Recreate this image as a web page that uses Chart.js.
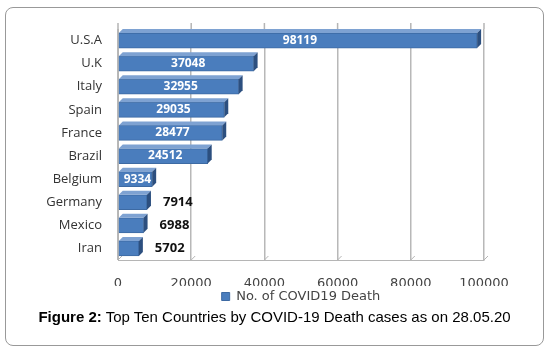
<!DOCTYPE html>
<html>
<head>
<meta charset="utf-8">
<script src="https://cdn.jsdelivr.net/npm/chart.js@4"></script>
<style>
    body { margin: 0; background: #fff; }
    #wrap { position: relative; width: 549px; height: 349px; }
    #frame {
        position: absolute; left: 5px; top: 7px; width: 537px; height: 337px;
        border: 1px solid #999; border-radius: 8px;
    }
    #deathChart { position: absolute; left: 0; top: 0; }
    #caption {
        position: absolute; left: 0; width: 549px; top: 308px; text-align: center;
        font-family: "Liberation Sans", Arial, sans-serif; font-size: 15px; color: #000;
    }
</style>
</head>
<body>
<div id="wrap">
    <div id="frame"></div>
    <canvas id="deathChart" width="549" height="349"></canvas>
    <div id="caption"><b>Figure 2:</b> Top Ten Countries by COVID-19 Death cases as on 28.05.20</div>
</div>
<script>
const countries = ['U.S.A', 'U.K', 'Italy', 'Spain', 'France', 'Brazil', 'Belgium', 'Germany', 'Mexico', 'Iran'];
const deaths = [98119, 37048, 32955, 29035, 28477, 24512, 9334, 7914, 6988, 5702];
const xTicks = [0, 20000, 40000, 60000, 80000, 100000];
const seriesName = 'No. of COVID19 Death';

const DEPTH = 4;

// Fake the 3D look: a top face and a dark right side on every bar
const bar3d = {
    id: 'bar3d',
    afterDatasetsDraw(chart) {
        const ctx = chart.ctx;
        chart.getDatasetMeta(0).data.forEach(bar => {
            const top = bar.y - bar.height / 2;
            const bottom = bar.y + bar.height / 2;
            ctx.save();
            ctx.fillStyle = '#7ea2d2';
            ctx.beginPath();
            ctx.moveTo(bar.base, top);
            ctx.lineTo(bar.base + DEPTH, top - DEPTH);
            ctx.lineTo(bar.x + DEPTH, top - DEPTH);
            ctx.lineTo(bar.x, top);
            ctx.closePath();
            ctx.fill();
            ctx.fillStyle = '#2c4f7f';
            ctx.beginPath();
            ctx.moveTo(bar.x, top);
            ctx.lineTo(bar.x + DEPTH, top - DEPTH);
            ctx.lineTo(bar.x + DEPTH, bottom - DEPTH);
            ctx.lineTo(bar.x, bottom);
            ctx.closePath();
            ctx.fill();
            ctx.restore();
        });
    }
};

// Value labels: white inside the long bars, bold black after the short ones
const valueLabels = {
    id: 'valueLabels',
    afterDatasetsDraw(chart) {
        const ctx = chart.ctx;
        const meta = chart.getDatasetMeta(0);
        ctx.save();
        ctx.textBaseline = 'middle';
        meta.data.forEach((bar, i) => {
            const v = deaths[i];
            if (v >= 9000) {
                ctx.font = 'bold 12px "Open Sans", sans-serif';
                ctx.fillStyle = '#fff';
                ctx.textAlign = 'center';
                ctx.fillText(String(v), (bar.base + bar.x) / 2 + 2, bar.y);
            } else {
                ctx.font = 'bold 13px "Open Sans", sans-serif';
                ctx.fillStyle = '#111';
                ctx.textAlign = 'left';
                ctx.fillText(String(v), bar.x + DEPTH + 12, bar.y);
            }
        });
        ctx.restore();
    }
};

// Gridlines run up a little past the plot, and slant down onto the floor
const floor = {
    id: 'floor',
    beforeDatasetsDraw(chart) {
        const ctx = chart.ctx;
        const area = chart.chartArea;
        const xs = chart.scales.x;
        ctx.save();
        ctx.strokeStyle = '#b5b5b5';
        ctx.lineWidth = 1.5;
        xTicks.forEach(t => {
            const px = xs.getPixelForValue(t);
            ctx.beginPath();
            ctx.moveTo(px, area.top - 6);
            ctx.lineTo(px, area.top);
            ctx.stroke();
            ctx.beginPath();
            ctx.lineWidth = 1;
            ctx.moveTo(px + DEPTH, area.bottom - DEPTH);
            ctx.lineTo(px, area.bottom);
            ctx.stroke();
            ctx.lineWidth = 1.5;
        });
        ctx.restore();
    }
};

const ctx = document.getElementById('deathChart').getContext('2d');

new Chart(ctx, {
    type: 'bar',
    data: {
        labels: countries,
        datasets: [{
            label: seriesName,
            data: deaths,
            backgroundColor: '#4a7dbd',
            borderColor: '#3d6aa3',
            borderWidth: 1,
            barThickness: 15
        }]
    },
    options: {
        indexAxis: 'y',
        responsive: false,
        animation: false,
        layout: {
            padding: { top: 29, right: 65, bottom: 36, left: 0 }
        },
        plugins: {
            legend: {
                position: 'bottom',
                fullSize: false,
                labels: {
                    boxWidth: 8,
                    boxHeight: 8,
                    padding: 4,
                    color: '#444',
                    font: { family: 'DejaVu Sans', size: 13 }
                }
            },
            tooltip: { enabled: false }
        },
        scales: {
            x: {
                min: 0,
                max: 100000,
                afterBuildTicks: scale => {
                    scale.ticks = xTicks.map(v => ({ value: v }));
                },
                afterFit: scale => { scale.height = 26; },
                grid: { color: '#b8b8b8', drawTicks: false, lineWidth: 1.5 },
                border: { color: '#b5b5b5' },
                ticks: {
                    padding: 16,
                    maxRotation: 0,
                    color: '#444',
                    font: { family: 'DejaVu Sans', size: 13 },
                    callback: value => String(value)
                }
            },
            y: {
                afterFit: scale => { scale.width = 118; },
                grid: { display: false, drawTicks: false },
                border: { color: '#b5b5b5' },
                ticks: {
                    padding: 16,
                    color: '#333',
                    font: { family: 'Open Sans', size: 13 }
                }
            }
        }
    },
    plugins: [floor, bar3d, valueLabels]
});
</script>
</body>
</html>
